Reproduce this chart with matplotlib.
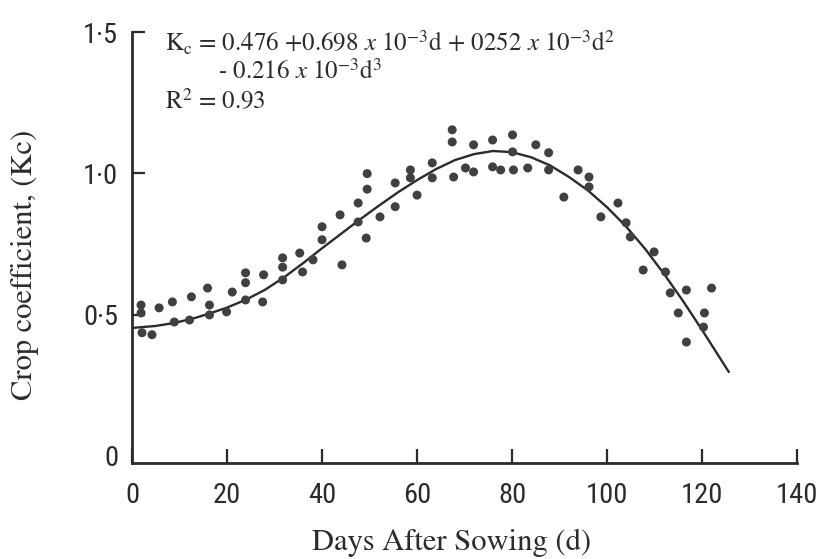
import numpy as np
import matplotlib.pyplot as plt
import matplotlib as mpl

mpl.rcParams['mathtext.fontset'] = 'stix'

days = [1.9, 1.9, 2.1, 4.2, 5.7, 8.5, 8.9, 12.5, 12.1, 15.9, 16.3, 16.3, 19.9, 21.1,
        23.9, 23.9, 23.9, 27.5, 27.7, 31.7, 31.7, 31.7, 35.3, 35.9, 38.1, 40.0, 40.0,
        43.8, 44.2, 47.6, 47.6, 49.5, 49.5, 49.3, 52.2, 55.4, 55.4, 58.6, 58.6, 60.0,
        63.2, 63.2, 67.4, 67.4, 67.7, 70.2, 71.9, 71.9, 75.9, 75.9, 77.6, 80.1, 80.1,
        80.3, 83.3, 85.0, 87.7, 87.7, 90.9, 93.9, 96.2, 96.2, 98.7, 102.3, 104.0,
        104.9, 107.6, 109.9, 112.3, 113.3, 116.7, 115.0, 116.7, 120.5, 120.3, 122.0]
kc = [0.534, 0.506, 0.436, 0.429, 0.524, 0.545, 0.474, 0.563, 0.481, 0.594, 0.534,
      0.499, 0.510, 0.580, 0.648, 0.613, 0.552, 0.545, 0.641, 0.701, 0.668, 0.623,
      0.718, 0.651, 0.694, 0.811, 0.765, 0.853, 0.676, 0.895, 0.828, 0.999, 0.944,
      0.771, 0.846, 0.966, 0.882, 1.012, 0.984, 0.923, 1.037, 0.984, 1.154, 1.111,
      0.987, 1.019, 1.101, 1.005, 1.118, 1.023, 1.012, 1.136, 1.076, 1.012, 1.019,
      1.101, 1.073, 1.012, 0.916, 1.012, 0.987, 0.952, 0.846, 0.895, 0.825, 0.775,
      0.658, 0.722, 0.651, 0.577, 0.587, 0.506, 0.403, 0.506, 0.456, 0.594]

# fitted curve
curve_days = [0, 5, 9, 13, 16.5, 20, 24, 28, 32, 36, 40, 44, 48, 52, 56, 60, 64,
              68, 72, 76, 80, 84, 88, 92, 96, 100, 104, 108, 112, 116, 120, 125.6]
curve_kc = [0.453, 0.460, 0.471, 0.487, 0.505, 0.525, 0.553, 0.588, 0.632, 0.682,
            0.735, 0.786, 0.837, 0.886, 0.933, 0.976, 1.015, 1.047, 1.068, 1.079,
            1.075, 1.057, 1.028, 0.987, 0.939, 0.880, 0.812, 0.733, 0.644, 0.548,
            0.446, 0.298]

x_ticks = [0, 20, 40, 60, 80, 100, 120, 140]
y_ticks = [0, 0.5, 1.0, 1.5]
y_ticklabels = ['0', '0·5', '1·0', '1·5']

INK = '#2b2b2b'
TICKFONT = ['Roboto Condensed', 'DejaVu Sans']

fig = plt.figure(figsize=(8.17, 5.59), dpi=100)
ax = fig.add_axes([0.1616, 0.1717, 0.814, 0.771])

ax.plot(curve_days, curve_kc, color=INK, lw=1.7, zorder=3)
ax.scatter(days, kc, s=42, color='#404040', edgecolor='none', zorder=4)

# the printed x axis sits a little below Kc = 0
ax.set_xlim(0, 140)
ax.set_ylim(-0.025, 1.5)
for s in ['top', 'right']:
    ax.spines[s].set_visible(False)
for s in ['left', 'bottom']:
    ax.spines[s].set_linewidth(2)
    ax.spines[s].set_color(INK)

ax.set_xticks(x_ticks)
ax.set_yticks(y_ticks)
ax.set_yticklabels(y_ticklabels)
ax.tick_params(direction='in', width=1.6, color=INK, labelsize=20.5, labelcolor=INK)
ax.tick_params(axis='x', length=10, pad=14)
ax.tick_params(axis='y', length=9, pad=10)
ax.yaxis.get_major_ticks()[0].tick1line.set_visible(False)
for lab in ax.get_xticklabels() + ax.get_yticklabels():
    lab.set_family(TICKFONT)
    lab.set_stretch('condensed')

ax.set_xlabel('Days After Sowing (d)', family='STIXGeneral', fontsize=22, color=INK)
ax.set_ylabel('Crop coefficient, (Kc)', family='STIXGeneral', fontsize=22, color=INK)
ax.xaxis.set_label_coords(0.48, -0.152)
ax.yaxis.set_label_coords(-0.14, 0.46)

eq = dict(family='STIXGeneral', fontsize=18, color=INK, transform=ax.transAxes,
          ha='left', va='center')
ax.text(0.05, 0.974, r'K$_\mathrm{c}$ = 0.476 +0.698 $x$ 10$^{-3}$d + 0252 $x$ 10$^{-3}$d$^{2}$', **eq)
ax.text(0.129, 0.907, r'- 0.216 $x$ 10$^{-3}$d$^{3}$', **eq)
ax.text(0.05, 0.840, r'R$^{2}$ = 0.93', **eq)

fig.savefig('out.png', dpi=100, facecolor='white')
